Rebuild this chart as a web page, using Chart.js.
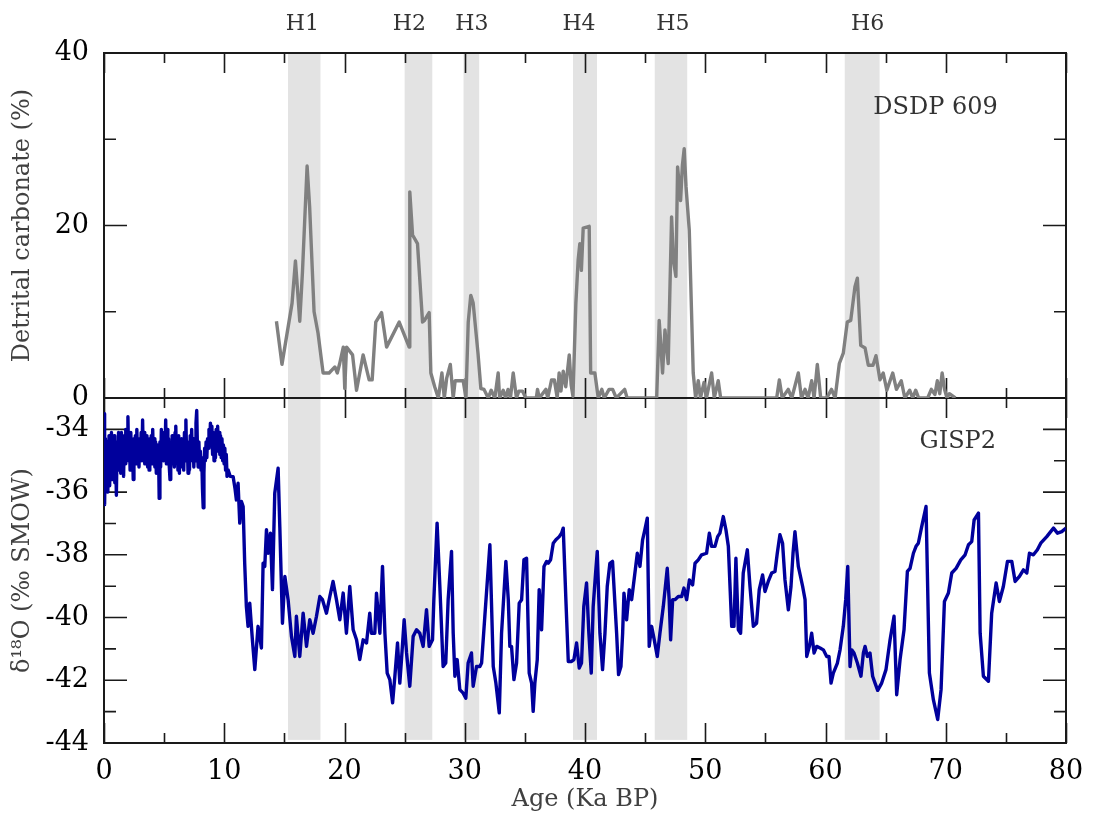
<!DOCTYPE html>
<html>
<head>
<meta charset="utf-8">
<script src="https://cdn.jsdelivr.net/npm/chart.js@4.4.1/dist/chart.umd.min.js"></script>
<style>
html,body{margin:0;padding:0;background:#ffffff;}
canvas{display:block;}
</style>
</head>
<body>
<canvas id="chart" width="1094" height="815"></canvas>
<script>
// ---------------- DATA ----------------
// DSDP 609 detrital carbonate (%) vs age (ka BP)
const dsdpAge = [
  14.34,14.80,15.64,15.92,16.28,16.50,16.89,17.10,17.47,17.80,
  18.22,18.72,19.20,19.40,19.60,19.90,20.02,20.17,20.67,21.00,
  21.55,22.05,22.30,22.60,23.08,23.50,24.55,25.38,25.43,25.66,
  26.07,26.49,26.65,27.04,27.18,27.50,27.80,28.10,28.30,28.50,
  28.80,29.04,29.20,29.87,30.10,30.29,30.50,30.70,31.10,31.34,
  31.60,31.95,32.20,32.50,32.78,32.90,33.20,33.40,33.60,33.80,
  34.03,34.30,34.50,34.80,35.08,35.95,36.05,36.20,36.75,36.90,
  37.22,37.45,37.69,37.85,38.00,38.19,38.40,38.69,38.85,39.00,
  39.24,39.43,39.57,39.70,39.85,40.35,40.47,40.82,41.10,41.40,
  41.60,42.00,42.30,42.60,43.30,43.50,45.96,46.17,46.45,46.65,
  46.92,47.20,47.35,47.56,47.70,47.95,48.10,48.25,48.40,48.67,
  49.00,49.20,49.42,49.60,49.90,50.10,50.53,50.75,51.08,51.28,
  55.94,56.16,56.40,56.90,57.20,57.74,58.00,58.30,58.55,58.85,
  59.05,59.32,59.60,60.10,60.50,60.80,61.15,61.48,61.81,62.10,
  62.45,62.65,62.93,63.29,63.56,63.95,64.20,64.53,64.80,65.10,
  65.59,65.90,66.30,66.60,67.00,67.25,67.50,67.75,68.50,68.80,
  69.10,69.30,69.50,69.70,69.90,70.10,70.30,70.80
];
const dsdpCarbonate = [
  8.9,3.9,11.0,15.9,8.9,14.5,26.9,22.2,10.0,7.5,
  2.9,2.9,3.6,2.9,4.0,5.9,1.1,5.9,5.0,0.9,
  5.0,2.1,2.1,8.8,9.9,5.9,8.8,5.9,23.9,18.9,
  17.9,8.8,9.0,9.9,2.9,1.3,0,2.9,0,2.3,
  3.9,0,2.0,2.0,0,8.8,11.9,11.0,5.2,1.1,
  1.0,0,0.9,0,2.9,0,0.9,0,1.0,0,
  2.9,0,0.8,0.8,0,0,1.0,0,1.0,0,
  2.1,2.1,0,2.9,0.8,3.1,1.3,5.0,1.5,0.2,
  11.0,16.0,17.9,14.8,19.7,19.9,2.9,2.9,0,1.0,
  0,1.0,1.0,0,1.0,0,0,9.0,2.9,7.9,
  4.0,21.0,16.0,14.1,26.8,22.9,27.0,28.9,24.5,19.5,
  2.9,0,2.0,0,1.8,0,2.9,0,2.0,0,
  0,2.1,0,1.0,0,2.9,0,1.0,0,2.0,
  0,3.9,0,0,1.0,0,4.0,5.2,8.8,9.0,
  12.9,13.9,6.1,5.8,3.8,3.8,4.9,2.1,2.9,0.9,
  2.9,1.0,2.0,0,0.9,0,0.9,0,0,1.0,
  0.4,2.0,0.5,2.9,1.0,0,0.5,0
];

// GISP2 delta-18O (permil SMOW) vs age (ka BP)
const gispAge = [
  0.00,0.03,0.07,0.12,0.17,0.22,0.27,0.32,0.37,0.42,
  0.47,0.52,0.57,0.62,0.67,0.72,0.78,0.84,0.90,0.96,
  1.03,1.09,1.15,1.21,1.27,1.33,1.39,1.45,1.51,1.57,
  1.63,1.69,1.75,1.81,1.87,1.93,1.99,2.05,2.11,2.17,
  2.23,2.30,2.37,2.43,2.49,2.55,2.61,2.67,2.73,2.79,
  2.85,2.91,2.97,3.03,3.09,3.15,3.21,3.27,3.33,3.39,
  3.45,3.51,3.57,3.63,3.69,3.75,3.81,3.87,3.93,3.99,
  4.05,4.11,4.17,4.23,4.29,4.35,4.41,4.47,4.53,4.59,
  4.65,4.71,4.77,4.83,4.89,4.95,5.01,5.07,5.13,5.19,
  5.25,5.31,5.37,5.43,5.49,5.55,5.61,5.67,5.73,5.79,
  5.85,5.91,5.97,6.03,6.09,6.15,6.21,6.27,6.33,6.39,
  6.45,6.51,6.57,6.63,6.69,6.75,6.81,6.87,6.93,6.99,
  7.05,7.11,7.17,7.23,7.29,7.35,7.41,7.47,7.53,7.59,
  7.65,7.71,7.77,7.83,7.89,7.95,8.01,8.07,8.13,8.19,
  8.25,8.31,8.37,8.43,8.49,8.55,8.61,8.67,8.73,8.79,
  8.85,8.91,8.97,9.03,9.09,9.15,9.21,9.27,9.33,9.39,
  9.45,9.51,9.57,9.63,9.69,9.75,9.81,9.87,9.93,9.99,
  10.05,10.11,10.17,10.23,10.32,10.50,10.74,10.90,11.01,11.15,
  11.29,11.43,11.57,11.70,11.84,11.98,12.12,12.34,12.54,12.81,
  13.09,13.23,13.37,13.51,13.65,13.84,14.01,14.20,14.48,14.62,
  14.84,15.04,15.31,15.59,15.87,16.00,16.28,16.56,16.84,17.11,
  17.39,17.67,17.95,18.17,18.50,18.78,19.05,19.33,19.61,19.89,
  20.16,20.44,20.72,21.00,21.27,21.55,21.83,22.10,22.24,22.52,
  22.66,22.94,23.16,23.36,23.55,23.77,24.00,24.19,24.41,24.60,
  24.74,24.96,25.16,25.43,25.71,25.99,26.26,26.54,26.82,27.04,
  27.32,27.43,27.70,27.93,28.20,28.42,28.62,28.90,29.04,29.18,
  29.37,29.59,29.87,30.09,30.28,30.56,30.70,30.98,31.26,31.40,
  31.67,32.09,32.37,32.59,32.87,33.06,33.42,33.62,33.75,33.89,
  34.09,34.31,34.53,34.73,34.92,35.14,35.36,35.56,35.69,35.83,
  36.03,36.19,36.39,36.59,36.81,36.94,37.14,37.36,37.58,37.86,
  38.05,38.19,38.41,38.61,38.88,39.08,39.30,39.52,39.71,39.90,
  40.13,40.32,40.52,40.68,40.88,41.02,41.24,41.46,41.66,41.85,
  42.07,42.29,42.63,42.79,42.99,43.13,43.24,43.46,43.68,43.88,
  44.15,44.35,44.57,44.79,44.98,45.18,45.34,45.54,45.76,46.01,
  46.23,46.51,46.84,47.00,47.12,47.29,47.48,47.76,48.04,48.23,
  48.45,48.68,48.95,49.15,49.42,49.70,50.11,50.34,50.53,50.81,
  51.03,51.22,51.50,51.72,51.92,52.20,52.39,52.55,52.75,52.94,
  53.16,53.50,53.72,54.00,54.27,54.49,54.77,54.97,55.24,55.52,
  55.80,55.99,56.21,56.43,56.63,56.91,57.13,57.30,57.46,57.74,
  58.10,58.30,58.44,58.66,58.85,59.05,59.27,59.55,59.82,60.10,
  60.29,60.46,60.65,60.99,61.21,61.48,61.68,61.85,62.04,62.18,
  62.37,62.65,62.95,63.15,63.29,63.48,63.70,63.92,64.12,64.34,
  64.67,65.03,65.37,65.70,65.92,66.20,66.53,66.81,67.03,67.31,
  67.53,67.72,68.00,68.36,68.64,68.97,69.33,69.61,69.89,70.22,
  70.50,70.86,71.25,71.61,71.89,72.16,72.36,72.72,72.86,73.13,
  73.55,73.82,74.19,74.46,74.79,75.13,75.49,75.77,76.13,76.46,
  76.74,76.96,77.29,77.62,77.90,78.40,78.96,79.29,79.65,80.00
];
const gispD18O = [
  -34.6,-33.5,-36.4,-34.3,-35.9,-34.6,-36.0,-34.4,-35.5,-34.2,
  -35.8,-34.5,-35.2,-34.1,-35.6,-34.3,-35.4,-34.2,-35.7,-34.6,
  -36.1,-34.4,-35.3,-34.1,-35.1,-34.3,-35.4,-34.1,-35.0,-34.4,
  -35.5,-34.2,-35.1,-34.0,-34.9,-34.3,-33.6,-35.0,-34.2,-35.3,
  -34.1,-35.2,-34.4,-35.6,-34.3,-35.0,-34.2,-35.1,-34.0,-35.0,
  -34.4,-35.2,-34.3,-34.9,-34.1,-35.0,-33.7,-34.9,-34.1,-35.1,
  -34.4,-35.0,-34.2,-35.2,-34.5,-35.3,-34.3,-35.0,-34.2,-35.1,
  -34.0,-35.0,-34.3,-35.2,-34.4,-35.4,-34.5,-35.3,-34.6,-36.2,
  -34.4,-35.2,-34.0,-34.9,-34.2,-35.0,-34.1,-34.8,-33.7,-35.1,
  -34.0,-35.0,-34.3,-35.2,-35.6,-34.5,-35.1,-34.2,-35.0,-34.3,
  -35.2,-34.1,-33.9,-35.0,-34.4,-35.3,-34.2,-35.4,-34.5,-35.2,
  -34.3,-35.1,-34.4,-35.3,-34.1,-35.0,-33.7,-34.9,-34.4,-35.4,
  -34.6,-35.3,-34.2,-34.9,-34.0,-35.0,-34.3,-35.2,-34.4,-35.0,
  -33.8,-33.4,-34.6,-35.2,-34.4,-35.1,-34.7,-35.3,-34.9,-35.9,
  -36.5,-35.4,-34.6,-35.0,-34.4,-34.9,-34.3,-34.6,-34.0,-34.5,
  -33.8,-34.4,-33.9,-34.8,-34.1,-35.0,-34.3,-34.9,-34.0,-34.7,
  -33.9,-34.6,-34.1,-34.8,-34.2,-34.9,-34.3,-35.0,-34.5,-35.1,
  -34.6,-35.3,-34.8,-35.5,-35.29,-35.50,-35.51,-35.90,-36.25,-35.72,
  -36.99,-36.30,-36.46,-38.27,-39.65,-40.28,-39.54,-40.71,-41.66,-40.28,
  -40.97,-38.27,-38.37,-37.20,-37.95,-37.31,-39.11,-36.04,-35.24,-37.10,
  -40.18,-38.69,-39.43,-40.60,-41.24,-39.96,-41.24,-39.86,-40.92,-40.07,
  -40.50,-39.96,-39.33,-39.43,-39.86,-39.33,-38.85,-39.43,-40.07,-39.22,
  -40.50,-39.01,-40.39,-40.71,-41.34,-40.71,-40.81,-39.86,-40.50,-40.50,
  -39.22,-40.50,-38.37,-40.50,-41.77,-41.98,-42.72,-41.87,-40.81,-42.09,
  -41.34,-40.07,-41.13,-42.19,-40.60,-40.39,-40.50,-40.92,-39.75,-40.92,
  -40.71,-39.43,-36.99,-39.01,-41.56,-41.45,-39.43,-37.89,-40.50,-41.87,
  -41.34,-42.30,-42.41,-42.57,-41.45,-41.13,-42.19,-41.56,-41.56,-41.45,
  -39.96,-37.68,-41.56,-42.09,-43.04,-40.50,-38.21,-39.43,-40.92,-40.92,
  -41.98,-41.45,-39.54,-39.43,-38.16,-38.11,-41.77,-42.09,-42.99,-42.09,
  -41.34,-39.11,-40.39,-38.37,-38.21,-38.27,-38.16,-37.63,-37.52,-37.42,
  -37.31,-37.15,-39.43,-41.40,-41.40,-41.34,-40.81,-41.61,-41.45,-39.65,
  -38.90,-40.50,-41.77,-39.65,-38.58,-37.89,-40.50,-41.66,-40.50,-39.01,
  -38.27,-38.21,-40.50,-41.82,-41.56,-40.50,-39.22,-40.07,-39.11,-39.43,
  -38.58,-37.95,-38.37,-37.52,-37.20,-36.83,-40.92,-40.28,-40.71,-41.24,
  -40.50,-39.65,-38.43,-39.43,-40.71,-39.43,-39.43,-39.33,-39.33,-39.06,
  -39.43,-38.80,-38.96,-38.27,-38.16,-38.00,-37.95,-37.31,-37.73,-37.73,
  -37.42,-37.31,-36.78,-37.20,-37.73,-40.28,-40.28,-38.11,-40.39,-40.50,
  -38.58,-37.84,-39.01,-40.28,-40.18,-39.11,-38.64,-39.17,-38.85,-38.58,
  -38.53,-37.95,-37.36,-37.63,-38.80,-39.75,-39.01,-37.95,-37.26,-38.37,
  -39.01,-39.43,-41.24,-40.92,-40.50,-41.13,-40.92,-40.97,-41.03,-41.24,
  -41.24,-42.09,-41.77,-41.45,-41.03,-40.28,-39.43,-38.37,-41.56,-41.03,
  -41.13,-41.45,-41.87,-41.13,-40.92,-41.24,-41.13,-41.87,-42.09,-42.32,
  -42.09,-41.66,-40.71,-39.96,-42.46,-41.34,-40.39,-38.53,-38.43,-37.95,
  -37.73,-37.63,-37.10,-36.46,-41.77,-42.62,-43.25,-42.30,-39.49,-39.22,
  -38.58,-38.43,-38.16,-38.00,-37.68,-37.58,-36.89,-36.67,-40.50,-41.87,
  -42.03,-39.86,-38.90,-39.49,-39.01,-38.21,-38.21,-38.85,-38.69,-38.48,
  -38.58,-37.95,-38.00,-37.84,-37.63,-37.42,-37.15,-37.31,-37.26,-37.15
];

// Heinrich events (ka BP)
const heinrichNames = ['H1','H2','H3','H4','H5','H6'];
const heinrichStart = [15.3, 25.0, 29.9, 39.0, 45.8, 61.6];
const heinrichEnd   = [18.0, 27.3, 31.2, 41.0, 48.5, 64.5];
const heinrichLabelAge = [16.5, 25.4, 30.6, 39.5, 47.3, 63.5];

// Tick labels
const ageTicks = [0, 10, 20, 30, 40, 50, 60, 70, 80];
const carbonateTicks = [0, 20, 40];
const d18OTicks = [-44, -42, -40, -38, -36, -34];

// ---------------- CHART ----------------
const SERIF = '"DejaVu Serif", "Liberation Serif", serif';
const FRAME = '#1a1a1a';

const panelPlugin = {
  id: 'panels',
  beforeDatasetsDraw(chart) {
    const {ctx} = chart;
    const {x, yTop, yBot} = chart.scales;
    const left = x.getPixelForValue(0), right = x.getPixelForValue(80);
    const top = yTop.getPixelForValue(40), mid = yTop.getPixelForValue(0);
    const bottom = yBot.getPixelForValue(-44);
    ctx.save();
    // Heinrich bands
    ctx.fillStyle = '#e3e3e3';
    const bandBottom = yBot.getPixelForValue(-43.9);
    heinrichStart.forEach((s, i) => {
      const x0 = x.getPixelForValue(s), x1 = x.getPixelForValue(heinrichEnd[i]);
      ctx.fillRect(x0, top, x1 - x0, bandBottom - top);
    });
    // frame
    ctx.strokeStyle = FRAME;
    ctx.lineWidth = 2;
    ctx.strokeRect(left, top, right - left, bottom - top);
    ctx.beginPath();
    ctx.moveTo(left, mid); ctx.lineTo(right, mid);
    ctx.stroke();
    // tick marks
    ctx.lineWidth = 1.6;
    ctx.beginPath();
    for (let v = 0; v <= 80; v += 5) {
      const px = Math.round(x.getPixelForValue(v)) + 0.5;
      const len = v % 10 === 0 ? 20 : 10;
      ctx.moveTo(px, top); ctx.lineTo(px, top + len);
      ctx.moveTo(px, mid - len); ctx.lineTo(px, mid + len);
      ctx.moveTo(px, bottom); ctx.lineTo(px, bottom - len);
    }
    for (let v = 0; v <= 40; v += 10) {
      const py = yTop.getPixelForValue(v);
      const len = v % 20 === 0 ? 23 : 12;
      ctx.moveTo(left, py); ctx.lineTo(left + len, py);
      ctx.moveTo(right, py); ctx.lineTo(right - len, py);
    }
    for (let v = -44; v <= -33; v += 1) {
      const py = yBot.getPixelForValue(v);
      const len = v % 2 === 0 ? 23 : 12;
      ctx.moveTo(left, py); ctx.lineTo(left + len, py);
      ctx.moveTo(right, py); ctx.lineTo(right - len, py);
    }
    ctx.stroke();
    ctx.restore();
  },
  afterDatasetsDraw(chart) {
    const {ctx} = chart;
    const {x, yTop, yBot} = chart.scales;
    const top = yTop.getPixelForValue(40);
    ctx.save();
    ctx.fillStyle = '#333333';
    ctx.textAlign = 'center';
    ctx.textBaseline = 'middle';
    ctx.font = '22px ' + SERIF;
    heinrichNames.forEach((n, i) => {
      ctx.fillText(n, x.getPixelForValue(heinrichLabelAge[i]), top - 29);
    });
    ctx.font = '24px ' + SERIF;
    ctx.fillText('DSDP 609', x.getPixelForValue(69.15), yTop.getPixelForValue(33.6));
    ctx.fillText('GISP2', x.getPixelForValue(71.0), yBot.getPixelForValue(-34.4));
    ctx.restore();
  }
};

const tickFont = {family: SERIF, size: 27};
const titleFont = {family: SERIF, size: 24};

new Chart(document.getElementById('chart'), {
  type: 'line',
  data: {
    datasets: [
      {
        label: 'DSDP 609',
        data: dsdpAge.map((a, i) => ({x: a, y: dsdpCarbonate[i]})),
        yAxisID: 'yTop',
        borderColor: '#808080',
        borderWidth: 3.4,
        borderJoinStyle: 'round',
        pointRadius: 0,
        tension: 0,
        fill: false
      },
      {
        label: 'GISP2',
        data: gispAge.map((a, i) => ({x: a, y: gispD18O[i]})),
        yAxisID: 'yBot',
        borderColor: '#00009c',
        borderWidth: 3.4,
        borderJoinStyle: 'round',
        pointRadius: 0,
        tension: 0,
        fill: false
      }
    ]
  },
  options: {
    responsive: false,
    animation: false,
    devicePixelRatio: 1,
    layout: {padding: {left: 0, top: 53, right: 28, bottom: 0}},
    plugins: {legend: {display: false}, tooltip: {enabled: false}},
    scales: {
      x: {
        type: 'linear', position: 'bottom', min: 0, max: 80,
        grid: {display: false}, border: {display: false},
        afterBuildTicks: s => { s.ticks = ageTicks.map(v => ({value: v})); },
        afterFit: s => { s.height = 72; },
        ticks: {font: tickFont, color: '#000', padding: 5, maxRotation: 0, autoSkip: false, callback: v => String(v)},
        title: {display: true, text: 'Age (Ka BP)', font: titleFont, color: '#404040', padding: {top: 0, bottom: 1}}
      },
      yBot: {
        type: 'linear', position: 'left', stack: 'panels', stackWeight: 1,
        min: -44, max: -33,
        grid: {display: false}, border: {display: false},
        afterBuildTicks: s => { s.ticks = d18OTicks.map(v => ({value: v})); },
        afterFit: s => { s.width = 104; },
        ticks: {font: tickFont, color: '#000', padding: 7, autoSkip: false, callback: v => String(v)},
        title: {display: true, text: 'δ¹⁸O (‰ SMOW)', font: titleFont, color: '#404040', padding: {top: 8, bottom: 0}}
      },
      yTop: {
        type: 'linear', position: 'left', stack: 'panels', stackWeight: 1,
        min: 0, max: 40,
        grid: {display: false}, border: {display: false},
        afterBuildTicks: s => { s.ticks = carbonateTicks.map(v => ({value: v})); },
        afterFit: s => { s.width = 104; },
        ticks: {font: tickFont, color: '#000', padding: 7, autoSkip: false, callback: v => String(v)},
        title: {display: true, text: 'Detrital carbonate (%)', font: titleFont, color: '#404040', padding: {top: 8, bottom: 0}}
      }
    }
  },
  plugins: [panelPlugin]
});
</script>
</body>
</html>
